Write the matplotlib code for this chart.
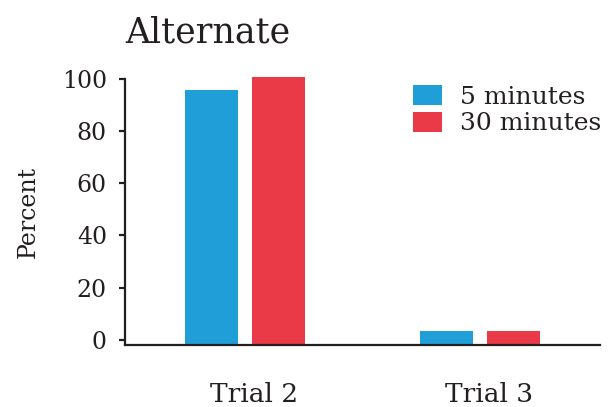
import numpy as np
import matplotlib
matplotlib.use("Agg")
import matplotlib.pyplot as plt
from matplotlib.transforms import ScaledTranslation

# data
trials = ["Trial 2", "Trial 3"]
series_names = ["5 minutes", "30 minutes"]
five_min = [95.8, 3.2]
thirty_min = [100.9, 3.2]

colors = ["#1f9ed8", "#eb3a47"]
ink = "#231f20"

plt.rcParams["font.family"] = ["DejaVu Serif"]

fig = plt.figure(figsize=(6.1, 4.07), dpi=100)
ax = fig.add_axes([125 / 610, 62 / 407, 475 / 610, 266 / 407])

y_floor = -2
x = np.arange(len(trials))
width = 0.225
offset = 0.143

for i, (vals, name) in enumerate(zip([five_min, thirty_min], series_names)):
    pos = x + (-offset if i == 0 else offset)
    ax.bar(pos, np.array(vals) - y_floor, width, bottom=y_floor,
           color=colors[i], label=name, clip_on=False)

ax.set_xlim(-0.51, 1.51)
ax.set_ylim(y_floor, 100)
ax.set_yticks([0, 20, 40, 60, 80, 100])
ax.set_xticks(x)
ax.set_xticklabels(trials)

for s in ["top", "right"]:
    ax.spines[s].set_visible(False)
for s in ["left", "bottom"]:
    ax.spines[s].set_linewidth(1.6)
    ax.spines[s].set_color(ink)

ax.tick_params(axis="y", length=4, width=1.6, color=ink, labelsize=17,
               labelcolor=ink, pad=9)
ax.tick_params(axis="x", length=0, labelsize=19, labelcolor=ink, pad=27)
# the category labels sit a little right of the bar groups
shift = ScaledTranslation(9 / 100, 0, fig.dpi_scale_trans)
for lbl in ax.get_xticklabels():
    lbl.set_transform(lbl.get_transform() + shift)

ax.set_ylabel("Percent", fontsize=17, color=ink, labelpad=16)
ax.set_title("Alternate", loc="left", fontsize=25, color=ink, pad=26)

fig.legend(loc="upper left", bbox_to_anchor=(413 / 610, 1 - 85 / 407),
           frameon=False, fontsize=18, handlelength=1.16, handleheight=0.85,
           handletextpad=0.7, labelspacing=0.12, borderpad=0,
           borderaxespad=0, labelcolor=ink)

fig.savefig("out.png", dpi=100)
